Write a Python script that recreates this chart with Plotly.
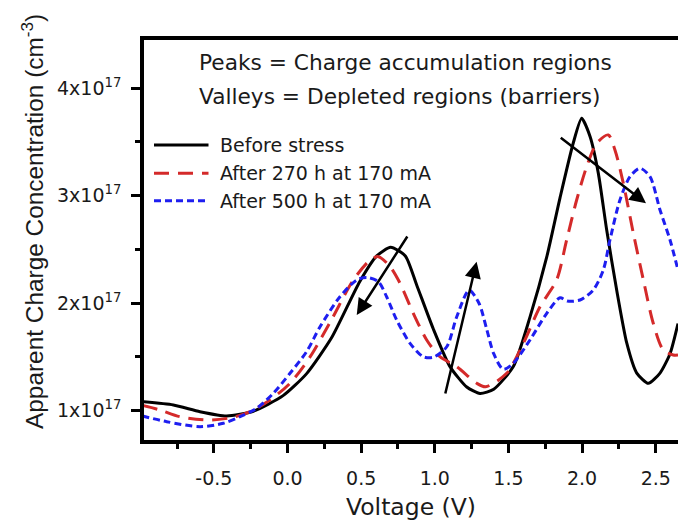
import plotly.graph_objects as go

# Apparent charge concentration vs. bias, concentrations in units of 1e17 cm^-3
SCALE = 1e17

v_before = [-0.986, -0.775, -0.594, -0.413, -0.232, -0.03, 0.13, 0.30, 0.49, 0.606,
            0.70, 0.80, 0.877, 0.99, 1.103, 1.217, 1.307, 1.40, 1.533, 1.646,
            1.76, 1.85, 1.94, 1.997, 2.054, 2.11, 2.167, 2.235, 2.303, 2.371,
            2.45, 2.529, 2.597, 2.651]
n_before = [1.084, 1.053, 0.991, 0.951, 0.995, 1.14, 1.345, 1.68, 2.20, 2.44,
            2.52, 2.44, 2.17, 1.76, 1.41, 1.22, 1.16, 1.20, 1.41, 1.87,
            2.43, 2.98, 3.49, 3.72, 3.55, 3.21, 2.68, 2.12, 1.63, 1.35,
            1.255, 1.35, 1.53, 1.81]

v_270h = [-0.986, -0.866, -0.73, -0.526, -0.368, -0.255, -0.119, 0.017, 0.153, 0.30,
          0.447, 0.56, 0.617, 0.696, 0.764, 0.854, 0.945, 1.035, 1.149, 1.285,
          1.345, 1.488, 1.601, 1.714, 1.827, 1.895, 1.963, 2.031, 2.099, 2.178,
          2.223, 2.28, 2.348, 2.416, 2.483, 2.551, 2.619, 2.651]
n_270h = [1.05, 1.007, 0.944, 0.913, 0.939, 0.991, 1.10, 1.255, 1.50, 1.85,
          2.216, 2.40, 2.433, 2.34, 2.185, 1.906, 1.658, 1.502, 1.409, 1.255,
          1.223, 1.348, 1.627, 1.967, 2.216, 2.588, 2.96, 3.27, 3.487, 3.565,
          3.425, 3.115, 2.65, 2.216, 1.813, 1.565, 1.518, 1.518]

v_500h = [-0.986, -0.82, -0.594, -0.436, -0.322, -0.209, -0.096, 0.017, 0.13, 0.221,
          0.356, 0.47, 0.538, 0.617, 0.673, 0.741, 0.832, 0.922, 0.99, 1.081,
          1.149, 1.233, 1.30, 1.352, 1.40, 1.465, 1.533, 1.646, 1.76, 1.85,
          1.90, 1.986, 2.076, 2.144, 2.189, 2.257, 2.325, 2.393, 2.461, 2.529,
          2.597, 2.651]
n_500h = [0.951, 0.898, 0.851, 0.883, 0.944, 1.022, 1.162, 1.348, 1.55, 1.781,
          2.06, 2.216, 2.24, 2.20, 2.06, 1.844, 1.627, 1.502, 1.497, 1.595,
          1.874, 2.12, 2.00, 1.76, 1.53, 1.385, 1.441, 1.658, 1.906, 2.05,
          2.02, 2.03, 2.123, 2.309, 2.588, 2.96, 3.177, 3.255, 3.177, 2.867,
          2.588, 2.309]

series_names = ["Before stress", "After 270 h at 170 mA", "After 500 h at 170 mA"]
series_colors = ["#000000", "#D42A2A", "#1E1EF0"]
series_dash = ["solid", "15px,9px", "7px,4px"]
series_smoothing = [0.6, 0.8, 0.8]

x_tick_vals = [-0.5, 0.0, 0.5, 1.0, 1.5, 2.0, 2.5]
x_minor_vals = [-0.75, -0.25, 0.25, 0.75, 1.25, 1.75, 2.25]
y_tick_vals = [1, 2, 3, 4]
y_minor_vals = [1.5, 2.5, 3.5]

note_lines = ["Peaks = Charge accumulation regions",
              "Valleys = Depleted regions (barriers)"]

# Shift arrows: tail (V, N) -> head (V, N)
arrow_tail_v = [0.82, 1.069, 1.845]
arrow_tail_n = [2.634, 1.146, 3.549]
arrow_head_v = [0.47, 1.284, 2.434]
arrow_head_n = [1.89, 2.386, 2.93]

TXT = "#1a1a1a"
SANS = "DejaVu Sans, Arial, sans-serif"

fig = go.Figure()
curves = [(v_before, n_before), (v_270h, n_270h), (v_500h, n_500h)]
for (vs, ns), name, col, dash, sm in zip(curves, series_names, series_colors,
                                         series_dash, series_smoothing):
    fig.add_trace(go.Scatter(
        x=vs, y=[n * SCALE for n in ns], mode="lines", name=name,
        line=dict(color=col, width=3, dash=dash, shape="spline", smoothing=sm),
        showlegend=False,
    ))

# plot-area geometry (px) used to place paper-referenced items
L, R, T, B = 144, 678, 40, 440
W, H = 678, 521


def px_x(px):
    return (px - L) / (R - L)


def px_y(py):
    return (B - py) / (B - T)


annotations = []
for line_txt, py in zip(note_lines, [62.6, 96.9]):
    annotations.append(dict(
        text=line_txt, xref="paper", yref="paper", x=px_x(196.5), y=px_y(py),
        xanchor="left", yanchor="middle", showarrow=False,
        font=dict(family=SANS, size=21.7, color=TXT),
    ))

shapes = []
for name, col, dash, py in zip(series_names, series_colors, series_dash, [145, 173.3, 200.7]):
    shapes.append(dict(
        type="line", xref="paper", yref="paper",
        x0=px_x(154), x1=px_x(208.5), y0=px_y(py), y1=px_y(py),
        line=dict(color=col, width=3, dash=dash),
    ))
    annotations.append(dict(
        text=name, xref="paper", yref="paper", x=px_x(217.5), y=px_y(py),
        xanchor="left", yanchor="middle", showarrow=False,
        font=dict(family=SANS, size=19, color=TXT),
    ))

for tv, tn, hv, hn in zip(arrow_tail_v, arrow_tail_n, arrow_head_v, arrow_head_n):
    annotations.append(dict(
        x=hv, y=hn * SCALE, ax=tv, ay=tn * SCALE,
        xref="x", yref="y", axref="x", ayref="y",
        text="", showarrow=True, arrowhead=2, arrowsize=1.3,
        arrowwidth=2.5, arrowcolor="#000000", standoff=0, startstandoff=0,
    ))

annotations.append(dict(
    text="Apparent Charge Concentration (cm<sup>-3</sup>)",
    xref="paper", yref="paper", x=px_x(33), y=px_y(222),
    xanchor="center", yanchor="middle", textangle=-90, showarrow=False,
    font=dict(family="Liberation Sans, Arial, sans-serif", size=24.4, color=TXT),
))

x0 = (L - 287.5) / 147.3
x1 = (R - 287.5) / 147.3
y0 = 1 + (410.7 - B) / 107.5
y1 = 1 + (410.7 - T) / 107.5

fig.update_layout(
    width=W, height=H,
    margin=dict(l=L, r=W - R, t=T, b=H - B, pad=0),
    paper_bgcolor="white", plot_bgcolor="white",
    annotations=annotations, shapes=shapes,
    showlegend=False,
)

fig.update_xaxes(
    range=[x0, x1],
    tickmode="array", tickvals=x_tick_vals,
    ticktext=[f"{v:.1f}" for v in x_tick_vals],
    ticks="outside", ticklen=9, tickwidth=3, tickcolor="#000000",
    ticklabelstandoff=9,
    minor=dict(tickmode="array", tickvals=x_minor_vals, ticks="outside",
               ticklen=5, tickwidth=3, tickcolor="#000000", showgrid=False),
    showline=True, linewidth=3.5, linecolor="#000000", mirror=True,
    showgrid=False, zeroline=False,
    tickfont=dict(family=SANS, size=19, color=TXT),
    title=dict(text="Voltage (V)", font=dict(family=SANS, size=23.5, color=TXT),
               standoff=13),
)

fig.update_yaxes(
    range=[y0 * SCALE, y1 * SCALE],
    tickmode="array", tickvals=[v * SCALE for v in y_tick_vals],
    ticktext=[f"{v}x10<sup>17</sup>" for v in y_tick_vals],
    ticks="outside", ticklen=9, tickwidth=3, tickcolor="#000000",
    ticklabelstandoff=6,
    minor=dict(tickmode="array", tickvals=[v * SCALE for v in y_minor_vals],
               ticks="outside", ticklen=5, tickwidth=3, tickcolor="#000000",
               showgrid=False),
    showline=True, linewidth=3.5, linecolor="#000000", mirror=False,
    showgrid=False, zeroline=False,
    tickfont=dict(family=SANS, size=19, color=TXT),
)

fig.write_html("out.html")
